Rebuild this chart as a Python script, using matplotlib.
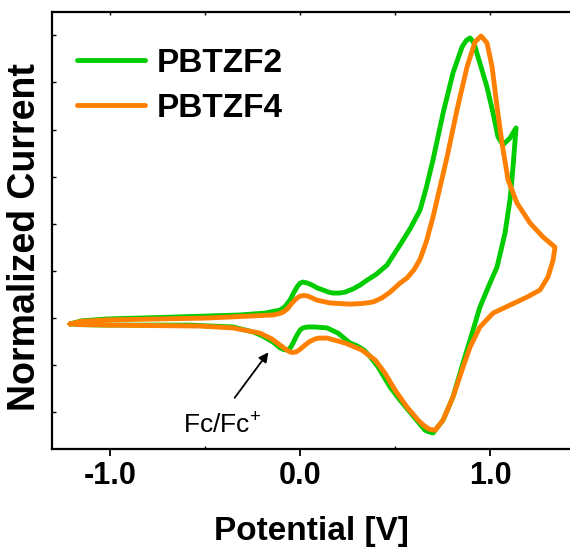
import matplotlib
matplotlib.use("Agg")
import matplotlib.pyplot as plt
from matplotlib.ticker import MultipleLocator

# ============================================================
#  数据：CV 曲线（正扫 + 回扫，闭合）
# ============================================================
# PBTZF2
pbtzf2_v = [-1.211, -1.15, -1.016, -0.668, -0.316, -0.184, -0.105, -0.080, -0.053, -0.035,
            -0.016, 0.000, 0.016, 0.040, 0.063, 0.090, 0.121, 0.150, 0.174, 0.205,
            0.237, 0.280, 0.316, 0.353, 0.400, 0.458, 0.526, 0.580, 0.632, 0.665, 0.700,
            0.753, 0.805, 0.853, 0.875, 0.895, 0.915, 0.937, 0.984, 1.016, 1.042,
            1.068, 1.105, 1.137,
            1.121, 1.105, 1.079, 1.037, 1.000, 0.947, 0.895, 0.858, 0.805, 0.753,
            0.700, 0.675, 0.658, 0.605, 0.526, 0.474, 0.411, 0.370, 0.337, 0.300,
            0.263, 0.200, 0.142, 0.079, 0.037, 0.015, 0.000, -0.018, -0.037, -0.050,
            -0.063, -0.085, -0.105, -0.142, -0.200, -0.247, -0.353, -0.579, -1.016, -1.15,
            -1.211]
pbtzf2_i = [-0.025, -0.012, -0.004, 0.004, 0.013, 0.021, 0.034, 0.048, 0.076, 0.105,
            0.132, 0.148, 0.153, 0.148, 0.140, 0.128, 0.119, 0.110, 0.106, 0.106,
            0.110, 0.124, 0.140, 0.161, 0.185, 0.225, 0.310, 0.380, 0.459, 0.555, 0.672,
            0.870, 1.040, 1.151, 1.178, 1.189, 1.168, 1.108, 0.981, 0.870, 0.769,
            0.735, 0.764, 0.807,
            0.641, 0.501, 0.361, 0.217, 0.149, 0.047, -0.093, -0.191, -0.335, -0.433,
            -0.488, -0.482, -0.476, -0.425, -0.348, -0.293, -0.208, -0.165, -0.136, -0.118,
            -0.106, -0.064, -0.042, -0.038, -0.038, -0.042, -0.051, -0.075, -0.106, -0.125,
            -0.136, -0.134, -0.127, -0.102, -0.075, -0.059, -0.038, -0.030, -0.030, -0.028,
            -0.025]

# PBTZF4
pbtzf4_v = [-1.211, -1.15, -1.016, -0.489, -0.142, -0.110, -0.089, -0.065, -0.042, -0.020,
            0.000, 0.020, 0.042, 0.089, 0.158, 0.263, 0.330, 0.384, 0.430, 0.474,
            0.526, 0.563, 0.600, 0.632, 0.665, 0.700, 0.774, 0.826, 0.879, 0.921, 0.953,
            0.984, 1.011, 1.037, 1.063, 1.095, 1.142, 1.211, 1.279, 1.342,
            1.332, 1.305, 1.263, 1.195, 1.105, 1.016, 0.947, 0.895, 0.858, 0.805,
            0.753, 0.711, 0.680, 0.650, 0.621, 0.563, 0.500, 0.447, 0.395, 0.326,
            0.237, 0.142, 0.100, 0.079, 0.050, 0.026, 0.000, -0.021, -0.040, -0.053,
            -0.080, -0.105, -0.150, -0.211, -0.353, -0.526, -1.016, -1.15, -1.211]
pbtzf4_i = [-0.025, -0.014, -0.008, 0.000, 0.013, 0.019, 0.025, 0.040, 0.064, 0.082,
            0.093, 0.096, 0.093, 0.076, 0.064, 0.059, 0.062, 0.068, 0.085, 0.110,
            0.148, 0.170, 0.205, 0.250, 0.325, 0.429, 0.684, 0.883, 1.066, 1.172, 1.197,
            1.168, 1.066, 0.896, 0.743, 0.586, 0.488, 0.403, 0.344, 0.301,
            0.246, 0.174, 0.119, 0.089, 0.055, 0.021, -0.038, -0.123, -0.208, -0.335,
            -0.433, -0.476, -0.472, -0.455, -0.433, -0.378, -0.306, -0.234, -0.178, -0.136,
            -0.106, -0.085, -0.085, -0.089, -0.100, -0.115, -0.133, -0.144, -0.146, -0.144,
            -0.130, -0.115, -0.088, -0.064, -0.042, -0.034, -0.030, -0.028, -0.025]

labels = ["PBTZF2", "PBTZF4"]
colors = ["#00CC00", "#FF8000"]
x_ticks = [-1.0, 0.0, 1.0]
x_ticklabels = ["-1.0", "0.0", "1.0"]

# 字体：没有窄体，用 Liberation Sans 并缩小字号
plt.rcParams["font.family"] = ["Liberation Sans", "DejaVu Sans"]
plt.rcParams["mathtext.default"] = "regular"
plt.rcParams["axes.unicode_minus"] = False

fig = plt.figure(figsize=(5.70, 5.57), dpi=100)
ax = fig.add_axes([0.0918, 0.193, 0.9082, 0.785])

ax.plot(pbtzf2_v, pbtzf2_i, color=colors[0], linewidth=3.5, label=labels[0],
        solid_joinstyle="round", solid_capstyle="round")
ax.plot(pbtzf4_v, pbtzf4_i, color=colors[1], linewidth=3.5, label=labels[1],
        solid_joinstyle="round", solid_capstyle="round")

ax.set_xlim(-1.304, 1.421)
ax.set_ylim(-0.558, 1.298)

ax.set_xticks(x_ticks)
ax.set_xticklabels(x_ticklabels, fontsize=22, fontweight="bold")
ax.xaxis.set_minor_locator(MultipleLocator(0.5))
ax.yaxis.set_major_locator(MultipleLocator(0.2))
ax.set_yticklabels([])

ax.tick_params(axis="x", which="major", direction="out", length=5, width=1.3,
               top=False, pad=3)
ax.tick_params(axis="x", which="minor", direction="in", length=2, width=1.0, top=True)
ax.tick_params(axis="y", which="major", direction="in", length=3, width=1.0, left=True)

# 顶部主刻度也朝内
ax_top = ax.secondary_xaxis("top")
ax_top.set_xticks(x_ticks)
ax_top.set_xticklabels([])
ax_top.tick_params(direction="in", length=2, width=1.0)
ax_top.spines["top"].set_visible(False)

for s in ["left", "bottom", "top"]:
    ax.spines[s].set_linewidth(1.6)
ax.spines["right"].set_visible(False)

ax.set_xlabel("Potential [V]", fontsize=24, fontweight="bold", labelpad=18)
ax.set_ylabel("Normalized Current", fontsize=27, fontweight="bold")
ax.yaxis.set_label_coords(-0.018, 0.486)

# 图例
ax.legend(loc="upper left", bbox_to_anchor=(0.048, 0.918), frameon=False,
          prop={"weight": "bold", "size": 24}, handlelength=2.04,
          handletextpad=0.36, labelspacing=0.42, borderpad=0.0, borderaxespad=0.0)

# Fc/Fc+ 标注
ax.annotate("", xy=(-0.158, -0.136), xytext=(-0.353, -0.348),
            arrowprops=dict(arrowstyle="-|>", color="black", lw=1.3,
                            mutation_scale=14))
ax.text(-0.616, -0.488, "Fc/Fc$^{+}$", fontsize=19, ha="left", va="baseline")

plt.savefig("out.png", dpi=100)
